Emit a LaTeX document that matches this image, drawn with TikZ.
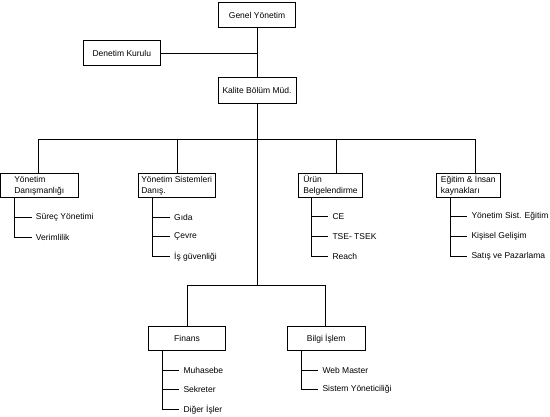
\documentclass[tikz,border=0pt]{standalone}
\usepackage{fontspec}
\setmainfont{Liberation Sans}
\begin{document}
\begin{tikzpicture}[x=1pt,y=-1pt,
  box/.style={draw, line width=0.8pt, inner sep=0pt, minimum height=24pt, align=left, font=\fontsize{8.5}{11}\selectfont},
  item/.style={anchor=west, inner xsep=4pt, inner ysep=0pt, font=\fontsize{8.5}{11}\selectfont},
  conn/.style={line width=0.8pt}]
\useasboundingbox (0,0) rectangle (550,417);
% top
\node[box, minimum width=77.5pt, minimum height=25pt] (genel) at (257,15) {Genel Yönetim};
\node[box, minimum width=77.6pt, minimum height=25.6pt] (denetim) at (121.8,53) {Denetim Kurulu};
\node[box, minimum width=78pt, minimum height=26.5pt] (kalite) at (257,90.2) {Kalite Bölüm Müd.};
% row 2
\node[box, minimum width=77.5pt] (yd) at (39.3,185.4) {Yönetim\\Danışmanlığı};
\node[box, minimum width=76.7pt] (ys) at (176.7,185.4) {Yönetim Sistemleri\\Danış.};
\node[box, minimum width=64.4pt] (ub) at (330.5,185.4) {Ürün\\Belgelendirme};
\node[box, minimum width=64.7pt] (ei) at (468.3,185.4) {Eğitim \& İnsan\\kaynakları};
% row 3
\node[box, minimum width=77.4pt] (fin) at (187,338.8) {Finans};
\node[box, minimum width=77.7pt] (bil) at (326.2,338.8) {Bilgi İşlem};
% items
\node[item] (yd1) at (31.7,217.3) {Süreç Yönetimi};
\node[item] (yd2) at (31.7,237.5) {Verimlilik};
\node[item] (ys1) at (170,217.3) {Gıda};
\node[item] (ys2) at (170,236.7) {Çevre};
\node[item] (ys3) at (170,256.5) {İş güvenliği};
\node[item] (ub1) at (328.3,216.7) {CE};
\node[item] (ub2) at (328.3,236.2) {TSE- TSEK};
\node[item] (ub3) at (328.3,256) {Reach};
\node[item] (ei1) at (467.3,216.7) {Yönetim Sist. Eğitim};
\node[item] (ei2) at (467.3,236.2) {Kişisel Gelişim};
\node[item] (ei3) at (467.3,256) {Satış ve Pazarlama};
\node[item] (fi1) at (179.3,370) {Muhasebe};
\node[item] (fi2) at (179.3,389.3) {Sekreter};
\node[item] (fi3) at (179.3,409.3) {Diğer İşler};
\node[item] (bi1) at (318.3,370) {Web Master};
\node[item] (bi2) at (318.3,389.3) {Sistem Yöneticiliği};
% coordinates
\coordinate (j1) at (257,53);
\coordinate (b1) at (38.3,139);
\coordinate (b2) at (177.3,139);
\coordinate (b3) at (336.7,139);
\coordinate (b4) at (475.7,139);
\coordinate (j2) at (257,285);
\coordinate (c1) at (187.3,285);
\coordinate (c2) at (325.7,285);
\coordinate (ydx) at (14,0);
\coordinate (ysx) at (152.7,0);
\coordinate (ubx) at (311,0);
\coordinate (eix) at (450,0);
\coordinate (fix) at (162.7,0);
\coordinate (bix) at (301.7,0);
% connectors
\draw[conn] (genel.south) -- (kalite.north);
\draw[conn] (denetim.east) -- (j1);
\draw[conn] (kalite.south) -- (j2);
\draw[conn] (b1) -- (b4);
\draw[conn] (b1) -- (b1 |- yd.north);
\draw[conn] (b2) -- (b2 |- ys.north);
\draw[conn] (b3) -- (b3 |- ub.north);
\draw[conn] (b4) -- (b4 |- ei.north);
\draw[conn] (c1) -- (c2);
\draw[conn] (c1) -- (c1 |- fin.north);
\draw[conn] (c2) -- (c2 |- bil.north);
% sub trees
\draw[conn] (yd.south -| ydx) |- (yd2.west);
\draw[conn] (yd1.west -| ydx) -- (yd1.west);
\draw[conn] (ys.south -| ysx) |- (ys3.west);
\draw[conn] (ys1.west -| ysx) -- (ys1.west);
\draw[conn] (ys2.west -| ysx) -- (ys2.west);
\draw[conn] (ub.south -| ubx) |- (ub3.west);
\draw[conn] (ub1.west -| ubx) -- (ub1.west);
\draw[conn] (ub2.west -| ubx) -- (ub2.west);
\draw[conn] (ei.south -| eix) |- (ei3.west);
\draw[conn] (ei1.west -| eix) -- (ei1.west);
\draw[conn] (ei2.west -| eix) -- (ei2.west);
\draw[conn] (fin.south -| fix) |- (fi3.west);
\draw[conn] (fi1.west -| fix) -- (fi1.west);
\draw[conn] (fi2.west -| fix) -- (fi2.west);
\draw[conn] (bil.south -| bix) |- (bi2.west);
\draw[conn] (bi1.west -| bix) -- (bi1.west);
\end{tikzpicture}
\end{document}
